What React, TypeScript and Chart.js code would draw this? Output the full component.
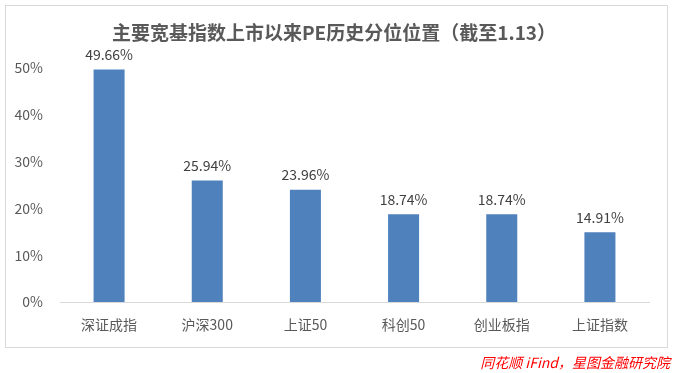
import React, { useEffect, useRef } from "react";
import { Chart, registerables } from "chart.js";

Chart.register(...registerables);

const categories = ["深证成指", "沪深300", "上证50", "科创50", "创业板指", "上证指数"];
const values = [49.66, 25.94, 23.96, 18.74, 18.74, 14.91];
const yTicks = [0, 10, 20, 30, 40, 50];
const titleText = "主要宽基指数上市以来PE历史分位位置（截至1.13）";
const sourceText = "同花顺 iFind，星图金融研究院";

const FONT = "'Noto Sans CJK SC', 'Noto Sans', sans-serif";

const decorPlugin = {
  id: "decor",
  beforeDraw(chart: any) {
    const ctx = chart.ctx;
    ctx.save();
    ctx.fillStyle = "#ffffff";
    ctx.fillRect(0, 0, chart.width, chart.height);
    ctx.strokeStyle = "#D9D9D9";
    ctx.lineWidth = 1;
    ctx.strokeRect(5.5, 5.5, 662, 342);
    ctx.restore();
  },
  afterDraw(chart: any) {
    const ctx = chart.ctx;
    ctx.save();
    ctx.fillStyle = "#595959";
    ctx.font = `bold 19px ${FONT}`;
    ctx.textAlign = "center";
    ctx.textBaseline = "middle";
    ctx.fillText(titleText, 334, 33);

    ctx.fillStyle = "#FF0000";
    ctx.font = `italic 14px ${FONT}`;
    ctx.textAlign = "right";
    ctx.fillText(sourceText, 670, 363);

    const meta = chart.getDatasetMeta(0);
    ctx.fillStyle = "#404040";
    ctx.font = `14px ${FONT}`;
    ctx.textAlign = "center";
    ctx.textBaseline = "bottom";
    meta.data.forEach((bar: any, i: number) => {
      ctx.fillText(values[i].toFixed(2) + "%", bar.x, bar.y - 8);
    });
    ctx.restore();
  },
};

export default function App() {
  const ref = useRef<HTMLCanvasElement>(null);
  useEffect(() => {
    document.body.style.margin = "0";
    const chart = new Chart(ref.current!, {
      type: "bar",
      data: {
        labels: categories,
        datasets: [
          {
            data: values,
            backgroundColor: "#4F81BD",
            barPercentage: 0.316,
            categoryPercentage: 1,
          },
        ],
      },
      options: {
        animation: false,
        responsive: false,
        layout: { padding: { left: 0, right: 25, top: 68, bottom: 26 } },
        plugins: { legend: { display: false }, tooltip: { enabled: false }, title: { display: false } },
        scales: {
          x: {
            grid: { display: false, drawTicks: false },
            border: { color: "#D9D9D9", width: 1 },
            ticks: { color: "#595959", font: { family: FONT, size: 14 }, padding: 14 },
            afterFit(scale: any) {
              scale.height = 45;
            },
          },
          y: {
            min: 0,
            max: 50,
            grid: { display: false, drawTicks: false },
            border: { display: false },
            afterBuildTicks(scale: any) {
              scale.ticks = yTicks.map((v) => ({ value: v }));
            },
            ticks: {
              color: "#595959",
              font: { family: FONT, size: 14 },
              padding: 17,
              callback: (v: any) => v + "%",
            },
            afterFit(scale: any) {
              scale.width = 60;
            },
          },
        },
      },
      plugins: [decorPlugin],
    });
    return () => chart.destroy();
  }, []);
  return <canvas ref={ref} width={674} height={373} style={{ display: "block" }} />;
}
